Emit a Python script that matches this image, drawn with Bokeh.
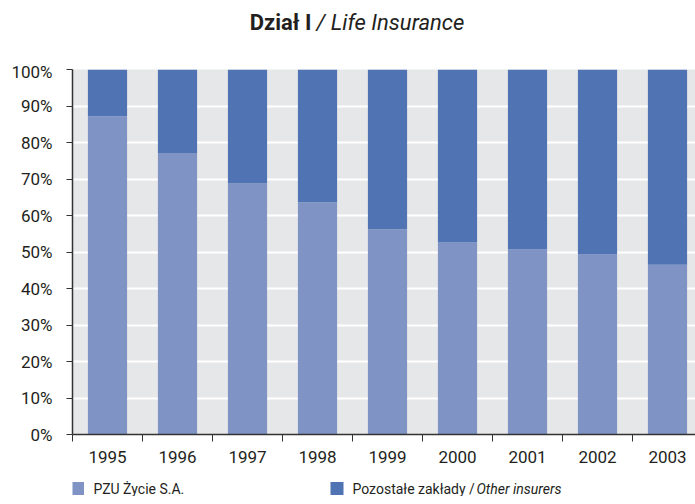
from bokeh.plotting import figure
from bokeh.layouts import column
from bokeh.models import ColumnDataSource, FixedTicker, Range1d
from bokeh.core.properties import value
from bokeh.embed import file_html
from bokeh.resources import INLINE

years = ["1995", "1996", "1997", "1998", "1999", "2000", "2001", "2002", "2003"]
pzu = [87.2, 77.1, 68.8, 63.6, 56.2, 52.6, 50.7, 49.3, 46.5]
other = [100 - v for v in pzu]
y_ticks = [0, 10, 20, 30, 40, 50, 60, 70, 80, 90, 100]
series_names = ["PZU Życie S.A.", "Pozostałe zakłady /"]
series_italic = "Other insurers"
title_bold = "Dział I"
title_italic = "/ Life Insurance"

FONT = "Roboto"
TXT = "#231f20"
C_PZU = "#7f93c4"
C_OTH = "#5073b4"
W = 695
LEFT = 72


def blank(h):
    f = figure(width=W, height=h, x_range=Range1d(LEFT, W), y_range=Range1d(0, h),
               output_backend="svg", toolbar_location=None, title=None,
               min_border_left=LEFT, min_border_right=0,
               min_border_top=0, min_border_bottom=0)
    f.axis.visible = False
    f.grid.visible = False
    f.outline_line_color = None
    return f


# ---- title
TH = 61
t = blank(TH)
t.text(x=[311], y=[TH - 22], text=[title_bold], text_font=value(FONT),
       text_font_size="22px", text_font_style="bold", text_color=TXT,
       text_align="right", text_baseline="alphabetic")
t.text(x=[316], y=[TH - 22], text=[title_italic], text_font=value(FONT),
       text_font_size="22px", text_font_style="italic", text_color=TXT,
       text_align="left", text_baseline="alphabetic")

# ---- main chart
xs = [i + 0.5 for i in range(len(years))]
src = ColumnDataSource(dict(x=xs, pzu=pzu, other=other))

MH = 409
p = figure(width=W, height=MH, x_range=Range1d(0, (W - LEFT) / 70.0),
           y_range=Range1d(0, 100),
           output_backend="svg", toolbar_location=None,
           min_border_left=LEFT, min_border_right=0, min_border_top=8,
           min_border_bottom=36, background_fill_color="#e6e7e8")
p.outline_line_color = None

p.vbar_stack(["pzu", "other"], x="x", width=0.56, color=[C_PZU, C_OTH],
             line_color=None, source=src)

p.xgrid.grid_line_color = None
p.ygrid.ticker = FixedTicker(ticks=y_ticks)
p.ygrid.grid_line_color = "white"
p.ygrid.grid_line_width = 2

ya = p.yaxis[0]
ya.ticker = FixedTicker(ticks=y_ticks)
ya.major_label_overrides = {tk: f"{tk}%" for tk in y_ticks}
ya.major_tick_out = 6
ya.major_tick_in = 0
ya.minor_tick_out = 0
ya.axis_line_width = 1.5
ya.axis_line_color = "#333333"
ya.major_tick_line_color = "#333333"
ya.major_label_text_font = FONT
ya.major_label_text_font_size = "17px"
ya.major_label_text_color = TXT
ya.major_label_standoff = 14

xa = p.xaxis[0]
xa.ticker = FixedTicker(ticks=xs, minor_ticks=list(range(len(years) + 1)))
xa.major_label_overrides = {x: y for x, y in zip(xs, years)}
xa.major_tick_out = 0
xa.major_tick_in = 0
xa.minor_tick_out = 7
xa.minor_tick_in = 0
xa.minor_tick_line_color = "#333333"
xa.axis_line_color = "#333333"
xa.axis_line_width = 1.5
xa.major_label_text_font = FONT
xa.major_label_text_font_size = "17px"
xa.major_label_text_color = TXT
xa.major_label_standoff = 9

# ---- legend
LH = 496 - TH - MH
lg = blank(LH)
ly = LH - (488 - TH - MH)
lg.scatter(x=[77, 336.5], y=[ly, ly], marker="square", size=13,
           color=[C_PZU, C_OTH], line_color=None)
lg.text(x=[93, 352], y=[ly, ly], text=series_names, text_font=value(FONT),
        text_font_size="14px", text_color=TXT, text_align="left",
        text_baseline="middle")
lg.text(x=[476], y=[ly], text=[series_italic], text_font=value(FONT),
        text_font_size="14px", text_font_style="italic", text_color=TXT,
        text_align="left", text_baseline="middle")

layout = column(t, p, lg, spacing=0)
open("out.html", "w").write(file_html(layout, INLINE))
